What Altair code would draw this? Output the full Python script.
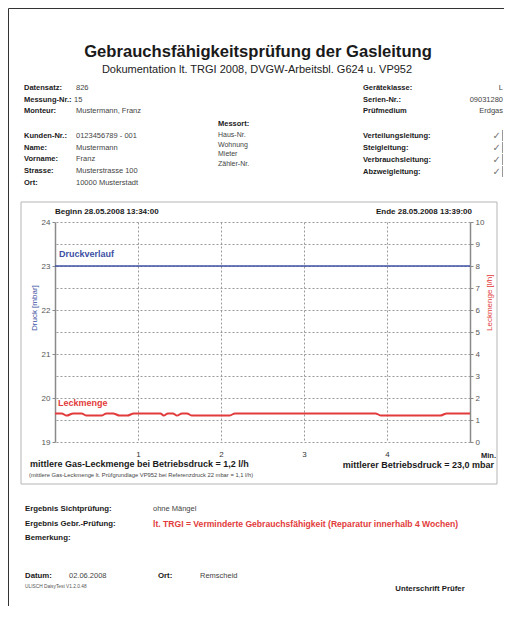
import altair as alt
import pandas as pd

# ---------------- data ----------------
druck_t = [0, 1, 2, 3, 4, 5]
druck_mbar = [23.0, 23.0, 23.0, 23.0, 23.0, 23.0]

leck_t = [0, 0.08, 0.14, 0.22, 0.32, 0.38, 0.56, 0.62, 0.70, 0.78, 0.87, 0.95,
          1.27, 1.31, 1.36, 1.42, 1.47, 1.53, 1.59, 1.65, 2.10, 2.17, 3.86,
          3.93, 4.64, 4.72, 5.0]
leck_lh = [1.3, 1.3, 1.2, 1.3, 1.3, 1.2, 1.2, 1.3, 1.3, 1.2, 1.2, 1.3,
           1.3, 1.2, 1.3, 1.3, 1.2, 1.3, 1.3, 1.2, 1.2, 1.3, 1.3,
           1.2, 1.2, 1.3, 1.3]

x_ticks = [1, 2, 3, 4]
left_ticks = [19, 20, 21, 22, 23, 24]
right_ticks = [0, 1, 2, 3, 4, 5, 6, 7, 8, 9, 10]

title = "Gebrauchsfähigkeitsprüfung der Gasleitung"
subtitle = "Dokumentation lt. TRGI 2008, DVGW-Arbeitsbl. G624 u. VP952"
left_labels = ["Datensatz:", "Messung-Nr.:", "Monteur:"]
left_values = ["826", "15", "Mustermann, Franz"]
kunde_labels = ["Kunden-Nr.:", "Name:", "Vorname:", "Strasse:", "Ort:"]
kunde_values = ["0123456789 - 001", "Mustermann", "Franz", "Musterstrasse 100", "10000 Musterstadt"]
messort_title = "Messort:"
messort_items = ["Haus-Nr.", "Wohnung", "Mieter", "Zähler-Nr."]
geraet_labels = ["Geräteklasse:", "Serien-Nr.:", "Prüfmedium"]
geraet_values = ["L", "09031280", "Erdgas"]
leitung_labels = ["Verteilungsleitung:", "Steigleitung:", "Verbrauchsleitung:", "Abzweigleitung:"]
beginn = "Beginn 28.05.2008 13:34:00"
ende = "Ende 28.05.2008 13:39:00"
summary_left = "mittlere Gas-Leckmenge bei Betriebsdruck = 1,2 l/h"
summary_right = "mittlerer Betriebsdruck = 23,0 mbar"
summary_note = "(mittlere Gas-Leckmenge lt. Prüfgrundlage VP952 bei Referenzdruck 22 mbar = 1,1 l/h)"
erg_labels = ["Ergebnis Sichtprüfung:", "Ergebnis Gebr.-Prüfung:", "Bemerkung:"]
erg_sicht = "ohne Mängel"
erg_gebr = "lt. TRGI = Verminderte Gebrauchsfähigkeit (Reparatur innerhalb 4 Wochen)"
datum_label, datum_value = "Datum:", "02.06.2008"
ort_label, ort_value = "Ort:", "Remscheid"
software = "ULISCH DaisyTest V1.2.0.48"
unterschrift = "Unterschrift Prüfer"

# ---------------- layout ----------------
W, H = 415, 220
X0, Y0 = 55, 222          # page position of plot origin
FONT = "Liberation Sans"
BLUE = "#3d4fa3"
RED = "#e23b3b"
GRID = "#9a9a9a"

one = alt.Data(values=[{}])


def T(text, x, y, size=7.5, bold=False, color="#1a1a1a", align="left", angle=None, font=FONT):
    kw = dict(align=align, baseline="middle", fontSize=size, font=font, color=color,
              fontWeight="bold" if bold else "normal")
    if angle is not None:
        kw["angle"] = angle
    return alt.Chart(one).mark_text(**kw).encode(
        x=alt.value(x - X0), y=alt.value(y - Y0), text=alt.value(text))


def R(x1, y1, x2, y2, color="#444", width=1):
    return alt.Chart(one).mark_rule(color=color, strokeWidth=width).encode(
        x=alt.value(x1 - X0), x2=alt.value(x2 - X0),
        y=alt.value(y1 - Y0), y2=alt.value(y2 - Y0))


layers = []
# page border
layers.append(R(8.5, 8.5, 504, 8.5, "#333", 1))
layers.append(R(8.5, 8.5, 8.5, 608, "#333", 1))
# chart box
layers.append(alt.Chart(one).mark_rect(fillOpacity=0, stroke="#b5b5b5", strokeWidth=1).encode(
    x=alt.value(21 - X0), x2=alt.value(497 - X0), y=alt.value(202 - Y0), y2=alt.value(484 - Y0)))

# header
layers.append(T(title, 258, 52, size=16.6, bold=True, align="center"))
layers.append(T(subtitle, 257, 70, size=11, align="center", color="#222"))

VAL = "#444"
ys1 = [88, 99.7, 111.4]
for lab, val, y in zip(left_labels, left_values, ys1):
    layers.append(T(lab, 24, y, bold=True))
    layers.append(T(val, 76 if lab != "Messung-Nr.:" else 74, y, color=VAL))
ys2 = [136, 147.7, 159.4, 171.1, 182.8]
for lab, val, y in zip(kunde_labels, kunde_values, ys2):
    layers.append(T(lab, 24, y, bold=True))
    layers.append(T(val, 76, y, color=VAL))
layers.append(T(messort_title, 218, 124, bold=True))
for item, y in zip(messort_items, [135, 144.5, 154, 163.5]):
    layers.append(T(item, 218, y, size=7, color=VAL))
for lab, val, y in zip(geraet_labels, geraet_values, ys1):
    layers.append(T(lab, 363, y, bold=True))
    layers.append(T(val, 503, y, color=VAL, align="right"))
for lab, y in zip(leitung_labels, [136, 148, 160, 172]):
    layers.append(T(lab, 363, y, bold=True))
    layers.append(T("✓", 501, y, size=10, color="#777", align="right", font="DejaVu Sans"))
    layers.append(R(502.5, y - 6, 502.5, y + 5, "#999", 1))

# chart header / axis titles / annotations
layers.append(T(beginn, 55, 212, size=8, bold=True))
layers.append(T(ende, 472, 212, size=8, bold=True, align="right"))
layers.append(T("Druck [mbar]", 35, 331, size=8, color=BLUE, angle=270))
layers.append(T("Leckmenge [l/h]", 490, 331, size=8, color=RED, angle=270))
layers.append(T("Min.", 481, 456, size=7.5, bold=True))
layers.append(T("Druckverlauf", 59, 254, size=9, bold=True, color=BLUE))
layers.append(T("Leckmenge", 58, 403, size=9, bold=True, color=RED))
layers.append(T(summary_left, 30, 464, size=9, bold=True))
layers.append(T(summary_right, 494, 464.5, size=9, bold=True, align="right"))
layers.append(T(summary_note, 29, 474.5, size=5.8, color="#444"))

# result section
for lab, y in zip(erg_labels, [509, 523.5, 537.5]):
    layers.append(T(lab, 25, y, size=7.8, bold=True))
layers.append(T(erg_sicht, 153, 509, size=7.5, color=VAL))
layers.append(T(erg_gebr, 153, 523.5, size=8.6, bold=True, color=RED))
layers.append(T(datum_label, 25, 576, size=7.8, bold=True))
layers.append(T(datum_value, 69, 576, size=7.5, color=VAL))
layers.append(T(ort_label, 158, 576, size=7.8, bold=True))
layers.append(T(ort_value, 200, 576, size=7.5, color=VAL))
layers.append(T(software, 25, 586.5, size=4.8, color="#555"))
layers.append(T(unterschrift, 430, 589, size=7.8, bold=True, align="center"))

# ---------------- plot ----------------
x_axis = alt.Axis(values=x_ticks, grid=True, gridDash=[2, 2], gridColor=GRID, gridWidth=1,
                  domain=False, ticks=False, labelFontSize=8, labelColor="#333",
                  labelFont=FONT, labelPadding=8, title=None, format="d")
x_enc = alt.X("t:Q", scale=alt.Scale(domain=[0, 5], nice=False), axis=x_axis)

druck_df = pd.DataFrame({"t": druck_t, "druck": druck_mbar})
leck_df = pd.DataFrame({"t": leck_t, "leck": leck_lh})

druck_line = alt.Chart(druck_df).mark_line(color=BLUE, strokeWidth=1.6).encode(
    x=x_enc,
    y=alt.Y("druck:Q", scale=alt.Scale(domain=[19, 24], nice=False, zero=False),
            axis=alt.Axis(values=left_ticks, grid=False, domainColor="#8a8a8a", domainWidth=1.5,
                          tickColor="#8a8a8a", tickSize=3, labelFontSize=8, labelColor="#555",
                          labelFont=FONT, labelPadding=2, title=None)))

leck_line = alt.Chart(leck_df).mark_line(color=RED, strokeWidth=2, interpolate="monotone").encode(
    x=x_enc,
    y=alt.Y("leck:Q", scale=alt.Scale(domain=[0, 10], nice=False),
            axis=alt.Axis(orient="right", values=right_ticks, grid=True, gridDash=[2, 2],
                          gridColor=GRID, gridWidth=1, domainColor="#8a8a8a", domainWidth=1.5,
                          tickColor="#8a8a8a", tickSize=3, labelFontSize=8, labelColor="#555",
                          labelFont=FONT, labelPadding=2, title=None)))

plot = alt.layer(druck_line, leck_line).resolve_scale(y="independent")

chart = alt.layer(plot, *layers).properties(
    width=W, height=H,
    padding={"left": 47, "top": 214, "right": 34, "bottom": 164},
    autosize=alt.AutoSizeParams(type="none"),
    background="white",
).configure_view(stroke=None)

chart.save("out.html", embed_options={"renderer": "svg", "actions": False})
